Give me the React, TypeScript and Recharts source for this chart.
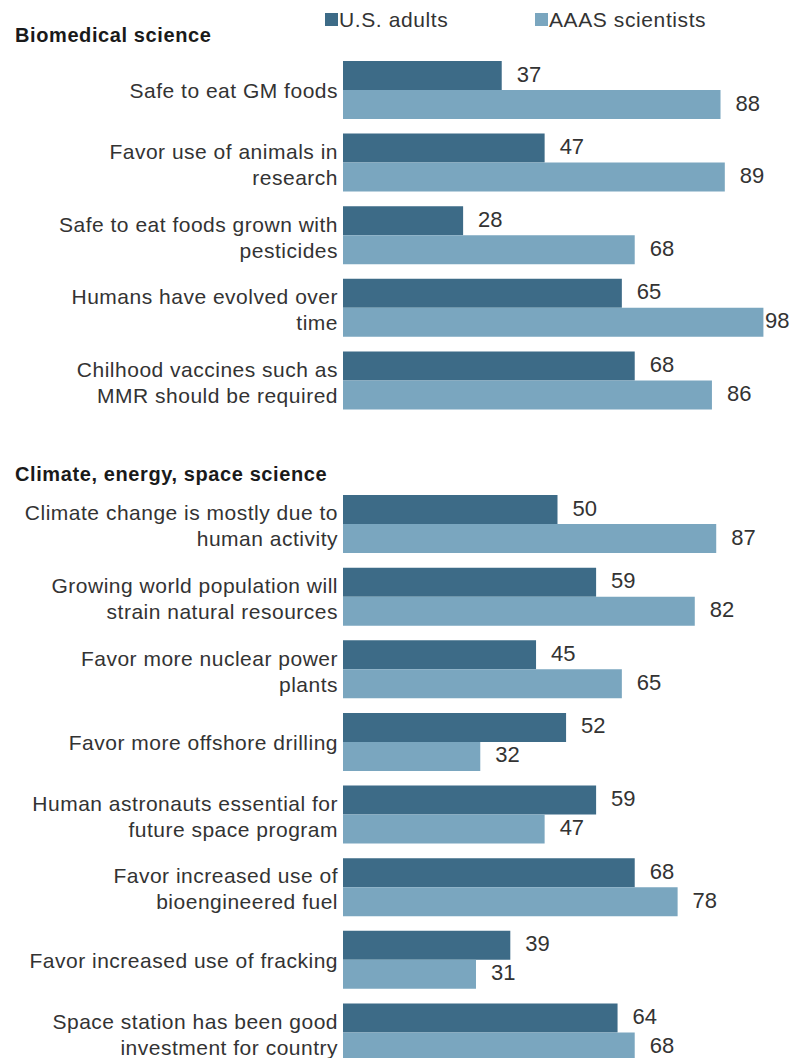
import { BarChart, Bar, XAxis, YAxis, LabelList } from 'recharts';

const bioLabels = [
  'Safe to eat GM foods',
  'Favor use of animals in\nresearch',
  'Safe to eat foods grown with\npesticides',
  'Humans have evolved over\ntime',
  'Chilhood vaccines such as\nMMR should be required',
];
const bioAdults = [37, 47, 28, 65, 68];
const bioScientists = [88, 89, 68, 98, 86];

const climateLabels = [
  'Climate change is mostly due to\nhuman activity',
  'Growing world population will\nstrain natural resources',
  'Favor more nuclear power\nplants',
  'Favor more offshore drilling',
  'Human astronauts essential for\nfuture space program',
  'Favor increased use of\nbioengineered fuel',
  'Favor increased use of fracking',
  'Space station has been good\ninvestment for country',
];
const climateAdults = [50, 59, 45, 52, 59, 68, 39, 64];
const climateScientists = [87, 82, 65, 32, 47, 78, 31, 68];

const seriesNames = ['U.S. adults', 'AAAS scientists'];

const DARK = '#3d6b87';
const LIGHT = '#7aa6bf';
const FONT = '"Liberation Sans", Arial, sans-serif';

function toRows(labels: string[], adults: number[], scientists: number[]) {
  return labels.map((label, i) => ({ label, adults: adults[i], scientists: scientists[i] }));
}

const bioData = toRows(bioLabels, bioAdults, bioScientists);
const climateData = toRows(climateLabels, climateAdults, climateScientists);

// category names, right aligned against the bars, one or two lines
function CategoryTick(props: any) {
  const { x, y, payload } = props;
  const lines = String(payload.value).split('\n');
  const first = lines.length > 1 ? y - 4 : y + 8;
  return (
    <text x={x} y={first} textAnchor="end" fontSize={21} fill="#333" fontFamily={FONT} letterSpacing={0.5}>
      {lines.map((line, i) => (
        <tspan key={i} x={x} y={first + i * 26}>
          {line}
        </tspan>
      ))}
    </text>
  );
}

function ValueLabel(props: any) {
  const box = props.viewBox && props.viewBox.width != null ? props.viewBox : props;
  const { x, y, width, height } = box;
  const tx = Math.min(x + width + 15, 765);
  return (
    <text x={tx} y={y + height / 2 + 6} fontSize={22} fill="#333" fontFamily={FONT}>
      {props.value}
    </text>
  );
}

function Panel({ data, height }: { data: any[]; height: number }) {
  return (
    <BarChart
      width={792}
      height={height}
      data={data}
      layout="vertical"
      margin={{ top: 54, right: 20, bottom: 0, left: 0 }}
      barSize={29}
      barGap={0}
    >
      <XAxis type="number" domain={[0, 100]} hide />
      <YAxis
        type="category"
        dataKey="label"
        width={343}
        axisLine={false}
        tickLine={false}
        tickSize={0}
        tickMargin={5}
        interval={0}
        tick={<CategoryTick />}
      />
      <Bar dataKey="adults" name={seriesNames[0]} fill={DARK} isAnimationActive={false}>
        <LabelList dataKey="adults" content={<ValueLabel />} />
      </Bar>
      <Bar dataKey="scientists" name={seriesNames[1]} fill={LIGHT} isAnimationActive={false}>
        <LabelList dataKey="scientists" content={<ValueLabel />} />
      </Bar>
    </BarChart>
  );
}

const headerStyle: React.CSSProperties = {
  position: 'absolute',
  left: 15,
  fontFamily: FONT,
  fontWeight: 'bold',
  fontSize: 20,
  lineHeight: '20px',
  letterSpacing: 0.6,
  color: '#1a1a1a',
  whiteSpace: 'nowrap',
};

function LegendItem({ left, color, text }: { left: number; color: string; text: string }) {
  return (
    <div style={{ position: 'absolute', left, top: 9, display: 'flex', alignItems: 'center', fontFamily: FONT, fontSize: 21, lineHeight: '21px', letterSpacing: 0.6, color: '#333', whiteSpace: 'nowrap' }}>
      <span style={{ display: 'inline-block', width: 13, height: 13, background: color, marginRight: 1 }} />
      {text}
    </div>
  );
}

export default function App() {
  return (
    <div style={{ position: 'absolute', left: 0, top: 0, width: 792, height: 1058, overflow: 'hidden', background: '#fff' }}>
      <LegendItem left={325} color={DARK} text={seriesNames[0]} />
      <LegendItem left={535} color={LIGHT} text={seriesNames[1]} />
      <div style={{ ...headerStyle, top: 25 }}>Biomedical science</div>
      <div style={{ ...headerStyle, top: 464 }}>Climate, energy, space science</div>
      <div style={{ position: 'absolute', left: 0, top: 0 }}>
        <Panel data={bioData} height={417} />
      </div>
      <div style={{ position: 'absolute', left: 0, top: 434 }}>
        <Panel data={climateData} height={635} />
      </div>
    </div>
  );
}
